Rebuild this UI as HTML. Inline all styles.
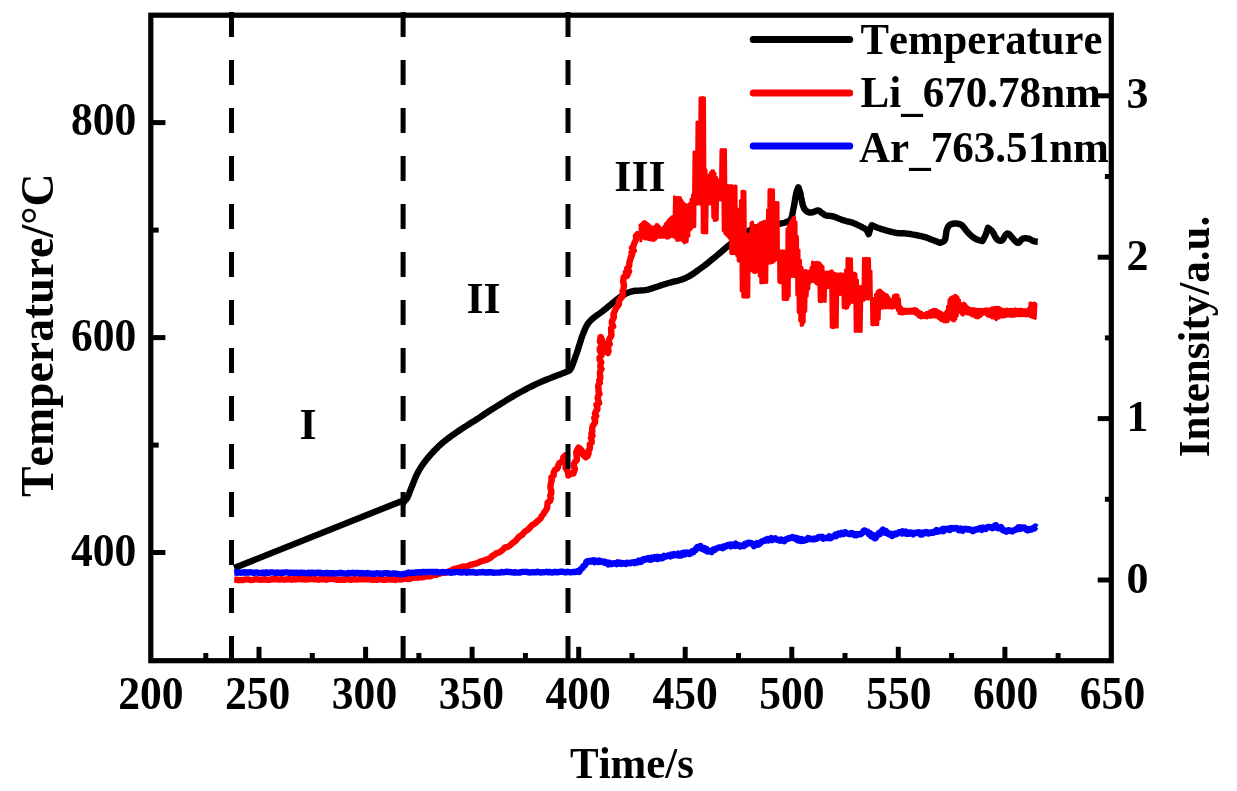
<!DOCTYPE html>
<html><head><meta charset="utf-8"><title>Temperature and intensity vs time</title>
<style>html,body{margin:0;padding:0;background:#fff}svg{display:block;filter:blur(0.5px)}</style></head>
<body>
<svg width="1237" height="791" viewBox="0 0 1237 791">
<rect width="1237" height="791" fill="#fff"/>
<g fill="none" stroke-linejoin="round" stroke-linecap="butt">
<path d="M234.2 568.0 L401.3 501.2 L403.2 503.0 L403.3 502.8 L403.5 502.6 L403.7 502.2 L404.0 501.9 L404.2 501.5 L404.5 501.2 L404.7 500.8 L405.0 500.5 L405.2 500.2 L405.5 500.1 L405.7 499.9 L405.9 499.8 L406.2 499.5 L406.5 499.2 L406.8 498.7 L407.2 498.0 L407.6 497.1 L408.1 496.0 L408.6 494.9 L409.1 493.5 L409.6 492.1 L410.2 490.6 L410.8 489.1 L411.5 487.5 L412.2 485.8 L412.9 484.0 L413.6 482.1 L414.4 480.1 L415.2 478.1 L416.1 476.1 L417.0 474.2 L417.9 472.4 L418.8 470.7 L419.8 469.1 L420.8 467.5 L421.8 465.9 L422.9 464.4 L424.0 462.8 L425.2 461.2 L426.5 459.6 L427.9 457.9 L429.4 456.1 L430.9 454.3 L432.6 452.5 L434.2 450.7 L435.9 449.0 L437.7 447.3 L439.4 445.6 L441.1 444.0 L442.9 442.5 L444.6 441.1 L446.4 439.7 L448.2 438.3 L450.1 436.9 L452.2 435.4 L454.4 433.8 L456.8 432.2 L459.3 430.5 L462.0 428.7 L464.7 426.9 L467.6 425.1 L470.4 423.3 L473.2 421.6 L475.9 419.8 L478.6 418.1 L481.3 416.3 L484.0 414.5 L486.6 412.8 L489.3 411.0 L492.0 409.3 L494.7 407.6 L497.4 405.9 L500.1 404.2 L502.8 402.6 L505.5 400.9 L508.1 399.3 L510.8 397.6 L513.5 396.1 L516.2 394.5 L518.9 393.0 L521.6 391.5 L524.3 390.1 L527.0 388.7 L529.6 387.3 L532.3 386.0 L535.0 384.7 L537.7 383.4 L540.4 382.2 L543.2 381.0 L546.1 379.8 L549.1 378.6 L552.0 377.4 L554.9 376.3 L557.5 375.3 L559.9 374.4 L561.9 373.6 L563.6 372.9 L564.9 372.4 L566.1 371.9 L567.0 371.6 L567.8 371.3 L568.4 371.0 L568.9 370.8 L569.4 370.6 L569.6 370.3 L569.8 370.0 L570.1 369.7 L570.4 369.3 L570.7 368.8 L571.1 368.1 L571.5 367.3 L572.0 366.2 L572.5 364.9 L573.1 363.4 L573.7 361.7 L574.4 359.9 L575.0 357.9 L575.7 355.9 L576.5 353.8 L577.2 351.7 L578.0 349.4 L578.7 347.0 L579.5 344.4 L580.4 341.8 L581.2 339.1 L582.0 336.6 L582.9 334.3 L583.7 332.2 L584.5 330.4 L585.1 328.8 L585.8 327.4 L586.5 326.0 L587.2 324.8 L588.0 323.5 L589.0 322.3 L590.2 320.9 L591.6 319.5 L593.2 318.1 L595.0 316.7 L596.8 315.4 L598.8 314.0 L600.8 312.5 L602.8 311.1 L604.7 309.6 L606.7 308.0 L608.7 306.3 L610.9 304.5 L613.0 302.7 L615.1 301.0 L617.2 299.3 L619.1 297.9 L620.9 296.6 L622.5 295.5 L624.0 294.6 L625.4 293.9 L626.6 293.2 L627.9 292.7 L629.3 292.2 L630.7 291.7 L632.2 291.3 L633.8 291.0 L635.5 290.8 L637.2 290.7 L639.0 290.6 L640.8 290.5 L642.7 290.4 L644.7 290.2 L646.8 289.8 L649.0 289.3 L651.3 288.6 L653.7 287.8 L656.2 287.0 L658.7 286.2 L661.2 285.3 L663.7 284.5 L666.2 283.7 L668.6 283.0 L671.1 282.4 L673.6 281.7 L676.1 281.1 L678.6 280.5 L681.0 279.8 L683.3 278.9 L685.6 278.0 L687.8 276.9 L689.9 275.8 L691.9 274.5 L693.9 273.2 L695.9 271.8 L697.8 270.4 L699.8 269.0 L701.8 267.5 L703.9 266.0 L706.0 264.4 L708.1 262.7 L710.2 261.0 L712.3 259.3 L714.3 257.7 L716.2 256.1 L718.0 254.6 L719.6 253.2 L721.1 252.0 L722.4 250.8 L723.7 249.7 L725.0 248.6 L726.3 247.4 L727.7 246.2 L729.3 244.9 L731.1 243.5 L732.9 242.0 L734.9 240.4 L736.9 238.8 L739.0 237.2 L741.0 235.6 L743.0 234.2 L745.0 233.0 L746.9 231.9 L748.7 230.9 L750.4 230.0 L752.2 229.2 L754.0 228.4 L755.9 227.7 L757.9 227.1 L760.0 226.5 L762.4 226.0 L765.0 225.5 L767.8 225.2 L770.7 224.8 L773.5 224.5 L776.1 224.3 L778.5 223.9 L780.6 223.6 L782.3 223.2 L783.8 222.9 L785.1 222.5 L786.2 222.1 L787.2 221.8 L788.1 221.4 L788.9 221.0 L789.6 220.5 L790.2 220.0 L790.7 219.4 L791.1 218.7 L791.4 218.1 L791.6 217.4 L791.7 216.8 L791.9 216.4 L792.0 216.0 L792.2 215.2 L792.4 214.3 L792.6 213.1 L792.9 211.8 L793.1 210.4 L793.4 208.9 L793.7 207.5 L794.0 206.0 L794.3 204.5 L794.6 202.8 L794.8 201.0 L795.1 199.2 L795.4 197.5 L795.7 195.8 L796.0 194.3 L796.3 193.0 L796.6 191.9 L796.9 190.9 L797.2 190.1 L797.5 189.3 L797.8 188.7 L798.0 188.2 L798.2 187.7 L798.4 187.3 L798.5 187.7 L798.7 188.2 L799.0 188.8 L799.2 189.5 L799.5 190.3 L799.8 191.1 L800.0 192.0 L800.3 193.0 L800.5 194.1 L800.8 195.3 L801.0 196.6 L801.3 197.9 L801.5 199.3 L801.8 200.6 L802.0 201.9 L802.3 203.0 L802.6 204.0 L802.8 205.0 L803.1 205.8 L803.4 206.7 L803.7 207.5 L804.0 208.2 L804.4 208.9 L804.8 209.5 L805.3 210.1 L805.8 210.6 L806.4 211.0 L806.9 211.4 L807.5 211.8 L808.1 212.1 L808.7 212.3 L809.3 212.5 L809.8 212.6 L810.4 212.6 L810.9 212.6 L811.4 212.5 L811.9 212.4 L812.4 212.3 L813.0 212.1 L813.5 212.0 L814.1 211.8 L814.6 211.6 L815.2 211.3 L815.8 211.1 L816.4 210.8 L817.0 210.6 L817.6 210.5 L818.1 210.5 L818.6 210.6 L819.1 210.8 L819.6 211.1 L820.1 211.5 L820.6 211.9 L821.0 212.3 L821.5 212.7 L822.0 213.0 L822.5 213.3 L822.9 213.6 L823.3 214.0 L823.7 214.3 L824.2 214.6 L824.7 214.9 L825.2 215.2 L825.9 215.4 L826.7 215.6 L827.5 215.7 L828.5 215.8 L829.4 215.9 L830.5 216.0 L831.5 216.2 L832.6 216.3 L833.7 216.6 L834.8 217.0 L836.0 217.4 L837.2 217.9 L838.4 218.4 L839.7 218.9 L840.9 219.4 L842.2 219.9 L843.4 220.3 L844.6 220.7 L845.8 221.0 L847.0 221.3 L848.2 221.5 L849.5 221.8 L850.7 222.1 L851.9 222.5 L853.1 222.9 L854.4 223.4 L855.7 224.0 L857.0 224.6 L858.4 225.3 L859.7 225.9 L860.9 226.5 L862.0 227.1 L862.9 227.6 L863.7 228.0 L864.3 228.3 L864.8 228.6 L865.2 228.8 L865.5 229.1 L865.8 229.3 L866.2 229.6 L866.5 230.0 L866.9 230.5 L867.2 231.0 L867.5 231.6 L867.8 232.2 L868.1 232.9 L868.3 233.4 L868.5 233.9 L868.7 234.2 L870.2 229.0 L871.8 225.2 L872.0 225.3 L872.3 225.4 L872.6 225.6 L872.9 225.8 L873.3 225.9 L873.7 226.1 L874.1 226.3 L874.5 226.5 L874.9 226.7 L875.3 226.8 L875.6 227.0 L876.0 227.1 L876.5 227.3 L877.0 227.5 L877.6 227.7 L878.4 228.0 L879.4 228.3 L880.5 228.7 L881.7 229.1 L883.0 229.5 L884.3 229.9 L885.7 230.3 L887.0 230.7 L888.2 231.0 L889.3 231.3 L890.5 231.6 L891.6 231.9 L892.7 232.2 L893.7 232.4 L894.8 232.6 L895.8 232.8 L896.9 233.0 L897.9 233.1 L899.0 233.2 L900.0 233.2 L901.0 233.3 L902.1 233.3 L903.1 233.3 L904.0 233.3 L905.0 233.4 L905.9 233.5 L906.7 233.6 L907.5 233.7 L908.3 233.8 L909.1 233.9 L910.0 234.0 L911.0 234.2 L912.1 234.4 L913.4 234.6 L914.9 234.9 L916.4 235.2 L918.0 235.5 L919.7 235.8 L921.3 236.2 L922.9 236.5 L924.3 236.9 L925.7 237.3 L927.0 237.8 L928.3 238.2 L929.5 238.7 L930.7 239.2 L931.9 239.7 L933.0 240.1 L934.0 240.5 L935.0 240.9 L935.9 241.2 L936.8 241.6 L937.6 241.9 L938.4 242.2 L939.0 242.5 L939.6 242.7 L940.0 242.9 L940.4 242.7 L941.0 242.5 L941.6 242.3 L942.3 242.0 L943.1 241.6 L943.8 241.2 L944.4 240.6 L944.9 239.9 L945.3 239.0 L945.5 237.8 L945.7 236.6 L945.9 235.2 L946.1 233.8 L946.2 232.5 L946.4 231.2 L946.7 230.2 L947.0 229.3 L947.3 228.5 L947.6 227.7 L948.0 227.0 L948.4 226.4 L948.8 225.8 L949.3 225.3 L949.8 224.9 L950.4 224.5 L951.1 224.2 L951.8 223.9 L952.6 223.8 L953.4 223.6 L954.2 223.5 L955.0 223.5 L955.8 223.5 L956.6 223.5 L957.3 223.6 L958.1 223.7 L958.8 223.9 L959.6 224.1 L960.4 224.4 L961.1 224.8 L961.9 225.3 L962.7 226.0 L963.4 226.8 L964.1 227.7 L964.9 228.7 L965.6 229.7 L966.4 230.7 L967.2 231.7 L968.0 232.6 L968.8 233.4 L969.7 234.3 L970.6 235.1 L971.5 236.0 L972.4 236.7 L973.4 237.5 L974.3 238.1 L975.2 238.7 L976.2 239.2 L977.2 239.6 L978.3 240.0 L979.3 240.3 L980.3 240.5 L981.2 240.8 L981.9 240.9 L982.5 241.1 L985.6 235.0 L988.0 227.8 L988.3 228.0 L988.7 228.3 L989.2 228.7 L989.8 229.1 L990.4 229.6 L991.0 230.1 L991.6 230.7 L992.2 231.4 L992.8 232.2 L993.4 233.2 L994.0 234.3 L994.6 235.5 L995.2 236.6 L995.9 237.7 L996.5 238.6 L997.1 239.3 L997.7 239.8 L998.3 240.2 L999.0 240.5 L999.6 240.7 L1000.2 240.8 L1000.8 240.8 L1001.4 240.7 L1001.9 240.5 L1002.4 240.1 L1002.9 239.5 L1003.4 238.7 L1003.9 237.9 L1004.3 237.0 L1004.7 236.2 L1005.2 235.5 L1005.6 235.0 L1006.0 234.6 L1006.3 234.2 L1006.7 233.9 L1007.0 233.7 L1007.3 233.5 L1007.7 233.5 L1008.1 233.6 L1008.6 233.8 L1009.2 234.2 L1009.8 234.9 L1010.5 235.7 L1011.3 236.6 L1012.0 237.5 L1012.8 238.4 L1013.5 239.2 L1014.1 239.9 L1014.7 240.5 L1015.2 241.0 L1015.8 241.6 L1016.3 242.0 L1016.8 242.4 L1017.3 242.7 L1017.8 242.9 L1018.3 242.9 L1018.8 242.7 L1019.3 242.3 L1019.8 241.7 L1020.3 241.0 L1020.9 240.3 L1021.4 239.6 L1022.0 239.1 L1022.6 238.7 L1023.3 238.5 L1024.0 238.3 L1024.8 238.3 L1025.6 238.3 L1026.4 238.3 L1027.1 238.4 L1027.9 238.6 L1028.6 238.7 L1029.3 238.9 L1029.9 239.2 L1030.5 239.5 L1031.2 239.9 L1031.8 240.2 L1032.3 240.6 L1032.9 240.9 L1033.5 241.1 L1034.1 241.3 L1034.7 241.4 L1035.3 241.5 L1035.9 241.6 L1036.5 241.6 L1037.0 241.6 L1037.4 241.7 L1037.7 241.7" stroke="#000" stroke-width="6.4"/>
<path d="M234.2 579.6 L236.3 579.7 L238.3 580.2 L240.4 579.9 L242.4 580.1 L244.5 579.7 L246.5 579.4 L248.6 579.4 L250.6 580.1 L252.7 579.8 L254.8 579.4 L256.8 579.2 L258.9 579.6 L260.9 579.7 L263.0 579.5 L265.0 579.3 L267.1 579.7 L269.2 579.9 L271.2 579.2 L273.3 579.0 L275.3 579.3 L277.4 579.3 L279.4 579.6 L281.5 579.1 L283.6 579.6 L285.6 579.5 L287.7 579.3 L289.7 579.0 L291.8 579.7 L293.8 579.1 L295.9 579.5 L297.9 579.0 L300.0 578.9 L302.0 579.4 L304.0 579.0 L306.1 579.6 L308.1 579.2 L310.1 579.0 L312.1 579.0 L314.1 579.2 L316.2 579.4 L318.2 579.7 L320.2 579.0 L322.2 579.2 L324.3 579.0 L326.3 579.7 L328.3 579.0 L330.3 578.9 L332.3 578.9 L334.4 579.2 L336.4 579.7 L338.4 579.7 L340.4 579.6 L342.4 579.8 L344.5 579.8 L346.5 579.2 L348.5 579.1 L350.5 579.8 L352.6 579.6 L354.6 579.0 L356.6 579.6 L358.6 579.3 L360.6 579.3 L362.7 579.3 L364.7 579.2 L366.7 579.0 L368.7 579.3 L370.7 579.4 L372.8 579.9 L374.8 579.2 L376.8 579.9 L378.8 579.3 L380.9 579.4 L382.9 579.8 L384.9 579.8 L386.9 579.5 L388.9 579.2 L391.0 579.6 L393.0 579.5 L395.0 580.0 L397.1 579.2 L399.3 579.2 L401.4 579.5 L403.6 578.6 L405.7 578.8 L407.9 579.0 L410.0 578.8 L412.0 577.9 L414.0 577.7 L416.0 577.4 L418.0 577.9 L420.0 577.1 L422.0 577.3 L424.0 577.1 L426.0 576.4 L428.0 576.1 L430.0 576.4 L432.1 575.6 L434.3 574.8 L436.4 574.7 L438.6 573.8 L440.7 573.3 L442.9 572.6 L445.0 572.7 L447.0 572.2 L449.0 571.3 L451.0 570.9 L453.0 569.4 L455.0 568.9 L457.0 568.4 L459.0 567.8 L461.7 567.0 L464.4 566.5 L467.2 566.3 L469.8 565.0 L472.5 564.3 L475.2 563.7 L477.9 562.9 L480.3 561.5 L483.0 560.8 L485.6 559.9 L488.2 559.1 L490.6 557.7 L492.4 555.8 L494.6 554.7 L496.6 553.1 L499.2 552.5 L501.2 551.0 L503.2 549.4 L505.0 547.4 L507.8 547.0 L509.9 545.5 L511.8 543.7 L513.9 542.2 L515.9 540.6 L517.7 538.3 L519.6 536.3 L522.2 534.9 L523.9 532.5 L526.1 530.8 L528.5 529.2 L530.3 527.1 L532.1 525.1 L534.5 523.8 L536.5 522.0 L538.6 520.3 L540.5 518.5 L541.6 516.2 L543.3 514.2 L544.6 512.0 L546.1 509.9 L547.2 507.7 L547.4 505.1 L547.6 502.6 L550.1 500.8 L550.8 498.4 L550.2 495.7 L551.3 493.3 L551.2 490.7 L550.5 488.1 L550.5 485.6 L550.9 483.1 L551.7 480.6 L551.3 477.6 L553.7 475.4 L553.7 472.5 L555.0 470.0 L557.5 468.3 L558.3 465.4 L559.3 463.2 L561.8 462.0 L562.8 459.8 L563.3 457.3 L565.3 455.5 L566.9 457.8 L566.6 460.2 L565.1 462.9 L566.5 465.2 L565.5 467.7 L567.0 470.0 L568.0 472.7 L568.4 475.5 L570.5 473.5 L573.4 473.5 L574.1 471.3 L574.9 469.1 L574.0 466.6 L573.9 464.2 L574.9 462.1 L576.9 460.1 L576.8 457.7 L576.5 455.3 L576.2 452.5 L577.2 449.9 L578.5 447.5 L580.7 449.2 L582.2 451.5 L582.5 454.3 L585.6 457.3 L587.7 455.8 L588.6 453.3 L588.3 450.9 L589.8 448.9 L590.0 446.7 L589.8 444.3 L591.7 442.4 L591.6 440.1 L590.9 437.8 L592.5 435.7 L591.4 433.4 L592.4 431.3 L592.1 429.0 L592.5 426.8 L593.4 424.7 L595.0 422.7 L595.1 420.5 L594.2 418.0 L596.2 416.1 L594.9 413.6 L595.8 411.4 L597.4 409.5 L597.3 407.2 L596.4 404.7 L599.1 403.0 L598.3 400.5 L597.7 398.2 L598.0 396.0 L599.5 393.9 L598.5 391.6 L598.6 389.3 L598.2 387.1 L598.4 384.8 L599.9 382.7 L599.2 380.4 L600.3 378.2 L600.2 376.0 L599.9 373.7 L600.1 371.4 L601.5 369.1 L600.3 366.8 L600.5 364.5 L601.3 362.2 L599.6 359.9 L599.5 357.6 L601.5 355.4 L601.3 353.1 L599.9 350.8 L599.7 348.5 L601.2 346.2 L601.8 343.9 L599.9 341.6 L601.8 339.3 L600.7 337.0 L600.1 339.7 L601.2 342.0 L602.1 344.5 L603.3 346.8 L603.8 349.3 L603.0 352.0 L604.7 349.4 L603.5 346.2 L604.7 343.5 L605.0 346.0 L606.9 348.0 L606.4 350.9 L608.0 353.0 L608.6 350.8 L608.1 348.4 L608.1 346.2 L609.8 344.1 L608.5 341.6 L609.2 339.5 L610.4 337.3 L611.5 335.2 L611.2 332.9 L611.2 330.6 L611.1 328.2 L613.2 326.3 L611.9 323.7 L611.9 321.3 L613.0 319.2 L613.9 317.0 L613.4 314.5 L614.2 312.3 L615.2 310.2 L616.0 308.0 L617.7 306.1 L619.0 304.0 L618.8 301.3 L620.1 299.0 L622.1 297.0 L623.0 294.6 L622.5 291.8 L623.3 289.4 L623.8 287.0 L624.0 284.6 L623.2 281.9 L623.4 279.5 L623.7 277.0 L626.4 275.0 L625.8 272.4 L627.0 276.0 L628.0 273.6 L629.1 271.2 L627.2 268.3 L629.2 266.1 L629.3 263.5 L629.8 261.0 L631.0 257.0 L632.1 254.9 L631.5 252.5 L633.8 250.7 L631.9 248.0 L633.5 246.0 L634.2 243.5 L635.3 241.1 L636.3 238.7 L635.9 236.0 L637.8 234.0 L640.0 235.1" stroke="#fe0000" stroke-width="6.4"/>
<path d="M640.0 224.9 L640.8 241.1 L641.5 223.9 L642.2 237.8 L643.0 222.3 L643.8 238.5 L644.5 221.5 L645.2 239.1 L646.0 222.3 L646.8 239.0 L647.5 223.5 L648.2 239.5 L649.0 224.4 L649.8 240.0 L650.5 226.2 L651.2 240.0 L652.0 227.3 L652.8 240.4 L653.5 227.3 L654.2 240.4 L655.0 226.2 L655.8 239.3 L656.5 224.6 L657.2 238.0 L658.0 224.8 L658.8 236.7 L659.5 226.6 L660.2 237.4 L661.0 228.1 L661.8 237.2 L662.5 228.4 L663.2 237.3 L664.0 226.2 L664.8 237.1 L665.5 223.8 L666.2 238.0 L667.0 221.9 L667.8 238.3 L668.5 220.0 L669.2 237.8 L670.0 218.6 L670.8 236.4 L671.5 217.1 L672.2 236.5 L673.0 216.5 L673.8 236.9 L674.5 196.8 L675.2 238.1 L676.0 197.6 L676.8 240.5 L677.5 197.4 L678.2 240.4 L679.0 197.6 L679.8 239.9 L680.5 197.7 L681.2 240.1 L682.0 200.6 L682.8 241.2 L683.5 202.7 L684.2 242.9 L685.0 204.3 L685.8 242.3 L686.5 204.8 L687.2 241.8 L688.0 205.1 L688.8 236.3 L689.5 203.4 L690.2 230.1 L691.0 199.3 L691.8 228.5 L692.5 195.1 L693.2 226.7 L694.0 152.1 L694.8 226.7 L695.5 152.0 L696.2 204.4 L697.0 122.0 L697.8 204.1 L698.5 122.5 L699.2 203.9 L700.0 98.1 L700.8 204.4 L701.5 97.8 L702.2 232.5 L703.0 97.5 L703.8 232.7 L704.5 98.0 L705.2 233.0 L706.0 169.8 L706.8 232.9 L707.5 179.5 L708.2 204.4 L709.0 174.9 L709.8 203.6 L710.5 172.5 L711.2 204.3 L712.0 170.8 L712.8 217.4 L713.5 170.7 L714.2 220.4 L715.0 173.3 L715.8 220.5 L716.5 177.3 L717.2 219.7 L718.0 180.3 L718.8 199.8 L719.5 179.7 L720.2 200.0 L721.0 149.8 L721.8 200.2 L722.5 149.6 L723.2 230.8 L724.0 149.7 L724.8 233.4 L725.5 149.6 L726.2 234.9 L727.0 186.3 L727.8 236.4 L728.5 185.6 L729.2 238.2 L730.0 186.0 L730.8 253.5 L731.5 185.6 L732.2 253.7 L733.0 186.5 L733.8 253.5 L734.5 185.9 L735.2 253.7 L736.0 186.1 L736.8 256.0 L737.5 209.0 L738.2 260.9 L739.0 209.0 L739.8 261.1 L740.5 200.6 L741.2 291.0 L742.0 191.3 L742.8 296.9 L743.5 191.3 L744.2 297.3 L745.0 191.4 L745.8 297.1 L746.5 234.4 L747.2 297.2 L748.0 234.8 L748.8 297.1 L749.5 234.1 L750.2 270.1 L751.0 223.0 L751.8 271.0 L752.5 221.9 L753.2 272.1 L754.0 225.0 L754.8 272.8 L755.5 227.7 L756.2 272.2 L757.0 226.7 L757.8 270.2 L758.5 224.4 L759.2 276.0 L760.0 222.9 L760.8 282.9 L761.5 222.5 L762.2 282.7 L763.0 222.0 L763.8 282.8 L764.5 221.3 L765.2 282.6 L766.0 221.1 L766.8 282.6 L767.5 210.0 L768.2 263.6 L769.0 189.7 L769.8 263.1 L770.5 189.6 L771.2 262.9 L772.0 189.8 L772.8 262.5 L773.5 189.8 L774.2 261.4 L775.0 202.3 L775.8 260.0 L776.5 202.4 L777.2 258.4 L778.0 202.4 L778.8 282.1 L779.5 251.0 L780.2 282.9 L781.0 250.9 L781.8 282.6 L782.5 250.8 L783.2 299.5 L784.0 250.9 L784.8 299.6 L785.5 251.2 L786.2 299.8 L787.0 228.8 L787.8 299.5 L788.5 225.6 L789.2 296.2 L790.0 223.0 L790.8 276.8 L791.5 220.0 L792.2 276.4 L793.0 218.0 L793.8 276.2 L794.5 217.1 L795.2 276.9 L796.0 221.8 L796.8 295.0 L797.5 236.5 L798.2 312.4 L799.0 250.0 L799.8 321.1 L800.5 260.2 L801.2 325.6 L802.0 267.2 L802.8 324.9 L803.5 270.5 L804.2 322.2 L805.0 270.6 L805.8 311.4 L806.5 270.7 L807.2 296.3 L808.0 271.2 L808.8 289.2 L809.5 270.9 L810.2 282.6 L811.0 267.6 L811.8 281.3 L812.5 262.1 L813.2 281.4 L814.0 262.7 L814.8 282.2 L815.5 262.4 L816.2 283.8 L817.0 262.2 L817.8 284.8 L818.5 262.6 L819.2 301.5 L820.0 263.1 L820.8 301.8 L821.5 264.9 L822.2 301.5 L823.0 266.5 L823.8 301.1 L824.5 271.8 L825.2 301.6 L826.0 272.5 L826.8 288.1 L827.5 272.1 L828.2 287.4 L829.0 272.2 L829.8 288.0 L830.5 271.3 L831.2 327.2 L832.0 270.7 L832.8 327.7 L833.5 272.5 L834.2 327.4 L835.0 273.6 L835.8 326.8 L836.5 274.1 L837.2 327.3 L838.0 274.0 L838.8 294.2 L839.5 274.1 L840.2 294.5 L841.0 273.7 L841.8 294.4 L842.5 274.1 L843.2 307.6 L844.0 274.3 L844.8 307.9 L845.5 270.1 L846.2 308.4 L847.0 258.5 L847.8 307.7 L848.5 258.6 L849.2 304.8 L850.0 258.8 L850.8 302.4 L851.5 258.7 L852.2 302.3 L853.0 273.2 L853.8 302.7 L854.5 273.0 L855.2 331.4 L856.0 273.9 L856.8 331.2 L857.5 280.1 L858.2 331.4 L859.0 286.4 L859.8 331.5 L860.5 286.5 L861.2 331.6 L862.0 286.2 L862.8 300.4 L863.5 258.4 L864.2 300.2 L865.0 258.4 L865.8 298.7 L866.5 258.2 L867.2 298.9 L868.0 258.4 L868.8 299.1 L869.5 258.4 L870.2 298.6 L871.0 270.9 L871.8 324.8 L872.5 299.9 L873.2 324.9 L874.0 298.2 L874.8 324.5 L875.5 294.6 L876.2 324.7 L877.0 291.8 L877.8 324.8 L878.5 290.5 L879.2 319.3 L880.0 290.0 L880.8 308.5 L881.5 290.9 L882.2 308.3 L883.0 292.6 L883.8 307.7 L884.5 293.5 L885.2 308.0 L886.0 294.4 L886.8 307.7 L887.5 295.0 L888.2 307.9 L889.0 297.5 L889.8 307.8 L890.5 299.3 L891.2 308.2 L892.0 299.5 L892.8 308.1 L893.5 295.8 L894.2 307.4 L895.0 294.9 L895.8 307.4 L896.5 294.8 L897.2 310.3 L898.0 295.0 L898.8 313.4 L899.5 298.7 L900.2 313.8 L901.0 306.5 L901.8 313.9 L902.5 308.4 L903.2 314.1 L904.0 309.3 L904.8 313.6 L905.5 309.0 L906.2 313.6 L907.0 309.4 L907.8 313.3 L908.5 309.1 L909.2 313.2 L910.0 309.5 L910.8 313.3 L911.5 309.1 L912.2 313.2 L913.0 308.9 L913.8 313.2 L914.5 308.4 L915.2 314.2 L916.0 308.7 L916.8 315.1 L917.5 309.5 L918.2 316.7 L919.0 311.0 L919.8 317.5 L920.5 311.7 L921.2 318.0 L922.0 312.6 L922.8 317.6 L923.5 314.0 L924.2 317.6 L925.0 313.2 L925.8 317.8 L926.5 312.6 L927.2 318.0 L928.0 312.2 L928.8 317.0 L929.5 311.1 L930.2 317.4 L931.0 310.6 L931.8 317.2 L932.5 309.7 L933.2 316.6 L934.0 309.2 L934.8 317.2 L935.5 309.5 L936.2 316.7 L937.0 309.7 L937.8 318.0 L938.5 310.9 L939.2 319.1 L940.0 311.6 L940.8 320.4 L941.5 312.6 L942.2 320.6 L943.0 314.1 L943.8 321.9 L944.5 312.9 L945.2 321.7 L946.0 311.2 L946.8 321.9 L947.5 306.2 L948.2 321.5 L949.0 299.8 L949.8 318.7 L950.5 297.7 L951.2 319.4 L952.0 297.1 L952.8 320.7 L953.5 296.6 L954.2 321.1 L955.0 295.3 L955.8 319.3 L956.5 295.7 L957.2 316.1 L958.0 297.3 L958.8 311.9 L959.5 299.9 L960.2 312.6 L961.0 303.7 L961.8 314.7 L962.5 303.8 L963.2 315.2 L964.0 303.1 L964.8 313.7 L965.5 304.2 L966.2 313.4 L967.0 306.1 L967.8 314.2 L968.5 307.4 L969.2 314.2 L970.0 308.2 L970.8 315.2 L971.5 308.7 L972.2 316.1 L973.0 308.4 L973.8 316.1 L974.5 309.1 L975.2 317.4 L976.0 309.1 L976.8 317.8 L977.5 309.5 L978.2 318.0 L979.0 309.3 L979.8 316.9 L980.5 309.5 L981.2 316.1 L982.0 309.2 L982.8 314.5 L983.5 309.6 L984.2 313.9 L985.0 309.0 L985.8 314.2 L986.5 308.7 L987.2 315.9 L988.0 309.0 L988.8 316.4 L989.5 309.2 L990.2 316.7 L991.0 308.1 L991.8 317.9 L992.5 308.1 L993.2 317.9 L994.0 307.4 L994.8 318.4 L995.5 307.5 L996.2 319.8 L997.0 307.2 L997.8 318.5 L998.5 307.2 L999.2 318.0 L1000.0 308.0 L1000.8 316.8 L1001.5 309.0 L1002.2 317.1 L1003.0 309.3 L1003.8 316.9 L1004.5 309.8 L1005.2 316.8 L1006.0 309.2 L1006.8 316.2 L1007.5 309.1 L1008.2 316.1 L1009.0 309.5 L1009.8 316.2 L1010.5 309.2 L1011.2 316.4 L1012.0 309.2 L1012.8 316.3 L1013.5 309.5 L1014.2 316.2 L1015.0 308.8 L1015.8 315.9 L1016.5 309.3 L1017.2 315.4 L1018.0 309.3 L1018.8 315.7 L1019.5 309.4 L1020.2 315.8 L1021.0 309.0 L1021.8 315.7 L1022.5 309.4 L1023.2 315.7 L1024.0 310.1 L1024.8 315.4 L1025.5 309.6 L1026.2 316.1 L1027.0 309.9 L1027.8 315.6 L1028.5 308.3 L1029.2 316.2 L1030.0 303.1 L1030.8 316.8 L1031.5 303.0 L1032.2 317.5 L1033.0 303.4 L1033.8 317.8 L1034.5 302.9 L1035.2 318.4 L1036.0 304.1" stroke="#fe0000" stroke-width="3.0" stroke-linejoin="round" stroke-linecap="round"/>
<path d="M234.2 572.5 L235.7 572.4 L237.3 572.8 L238.8 572.3 L240.3 572.7 L241.9 572.6 L243.4 572.3 L244.9 572.7 L246.4 572.3 L248.0 572.7 L249.5 572.3 L251.0 572.4 L252.6 572.7 L254.1 573.0 L255.6 572.4 L257.2 572.5 L258.7 572.9 L260.2 573.1 L261.7 572.8 L263.3 572.7 L264.8 573.2 L266.3 572.3 L267.9 573.1 L269.4 572.6 L270.9 572.4 L272.5 572.4 L274.0 572.6 L275.5 573.0 L277.0 572.5 L278.6 572.8 L280.1 572.9 L281.6 572.7 L283.2 572.8 L284.7 572.4 L286.2 572.4 L287.8 572.5 L289.3 572.9 L290.8 572.7 L292.3 572.6 L293.9 572.9 L295.4 572.8 L296.9 572.6 L298.5 573.1 L300.0 573.0 L301.5 572.6 L303.0 572.9 L304.5 572.9 L306.0 573.2 L307.5 573.1 L309.0 572.7 L310.5 573.3 L312.0 572.6 L313.5 572.8 L315.0 573.2 L316.5 572.6 L318.0 573.0 L319.5 572.6 L321.0 573.1 L322.5 573.2 L324.0 573.1 L325.5 573.4 L327.0 572.9 L328.5 573.2 L330.0 573.2 L331.5 573.2 L333.0 573.1 L334.5 573.4 L336.0 573.5 L337.5 573.1 L339.0 573.3 L340.5 572.8 L342.0 573.4 L343.5 573.3 L345.0 573.6 L346.5 573.5 L348.0 573.0 L349.5 573.1 L351.0 573.4 L352.5 572.8 L354.0 573.2 L355.5 573.0 L357.0 573.0 L358.5 572.9 L360.0 573.6 L361.5 573.0 L363.0 573.1 L364.5 573.3 L366.0 573.7 L367.5 573.0 L369.0 573.4 L370.5 573.5 L372.0 573.8 L373.5 573.7 L375.0 573.8 L376.5 573.3 L378.0 573.4 L379.5 573.4 L381.0 573.9 L382.5 573.9 L384.0 573.2 L385.5 573.3 L387.0 573.3 L388.5 573.3 L390.0 573.6 L391.5 573.8 L393.0 573.5 L394.5 573.4 L396.0 573.8 L397.5 573.9 L399.0 574.1 L400.5 574.5 L402.0 574.4 L403.6 573.9 L405.2 573.7 L406.8 573.4 L408.4 572.5 L410.0 573.0 L411.5 572.8 L413.1 572.9 L414.6 572.8 L416.2 572.4 L417.7 572.4 L419.2 572.1 L420.8 572.6 L422.3 572.0 L423.8 572.0 L425.4 572.1 L426.9 572.0 L428.5 572.2 L430.0 571.9 L431.5 571.9 L433.0 572.0 L434.6 571.9 L436.1 572.2 L437.6 571.9 L439.1 572.6 L440.7 572.4 L442.2 572.0 L443.7 572.1 L445.2 572.2 L446.7 572.2 L448.3 572.0 L449.8 572.6 L451.3 572.7 L452.8 572.3 L454.3 572.3 L455.9 571.9 L457.4 571.9 L458.9 572.2 L460.4 572.1 L462.0 572.6 L463.5 572.0 L465.0 571.9 L466.5 572.7 L468.0 572.3 L469.6 572.0 L471.1 572.3 L472.6 571.9 L474.1 572.3 L475.7 572.7 L477.2 572.6 L478.7 572.5 L480.2 572.1 L481.7 572.2 L483.3 572.0 L484.8 572.5 L486.3 572.3 L487.8 572.6 L489.3 572.1 L490.9 572.1 L492.4 572.6 L493.9 572.7 L495.4 572.6 L497.0 572.6 L498.5 572.6 L500.0 572.5 L501.5 572.0 L503.0 572.3 L504.5 572.1 L506.0 571.8 L507.5 571.8 L509.0 572.1 L510.5 572.0 L512.0 572.4 L513.5 572.6 L515.0 572.2 L516.5 572.6 L518.0 572.6 L519.5 572.6 L521.0 572.1 L522.5 571.9 L524.0 571.9 L525.5 571.9 L527.0 571.9 L528.5 572.3 L530.0 572.5 L531.5 572.4 L533.0 572.1 L534.5 572.3 L536.0 572.4 L537.5 571.7 L539.0 572.2 L540.5 572.5 L542.0 572.3 L543.5 572.3 L545.0 572.1 L546.5 571.8 L548.0 572.3 L549.5 571.9 L551.0 572.3 L552.5 572.5 L554.0 571.9 L555.5 571.9 L557.0 572.4 L558.5 572.2 L560.0 571.7 L561.5 571.7 L563.0 571.7 L564.5 572.3 L566.1 572.2 L567.6 571.6 L569.1 572.2 L570.6 572.4 L572.1 572.1 L573.7 571.8 L575.2 572.0 L576.7 571.6 L578.2 570.7 L579.2 571.9 L580.2 570.0 L581.2 568.6 L582.2 568.5 L583.3 566.1 L584.3 566.0 L585.3 564.8 L586.3 562.1 L587.3 561.1 L588.3 561.1 L589.3 560.9 L590.3 561.7 L591.3 560.8 L592.3 561.1 L593.3 560.3 L594.4 562.2 L595.4 560.7 L596.4 560.9 L597.4 561.1 L598.4 561.9 L599.4 560.6 L600.4 561.7 L601.4 561.2 L602.4 561.8 L603.5 562.3 L604.5 561.6 L605.5 563.1 L606.5 563.0 L607.5 562.5 L608.5 564.5 L609.5 562.9 L610.5 563.6 L611.5 564.2 L612.5 563.7 L613.6 563.1 L614.6 563.5 L615.6 563.6 L616.6 564.1 L617.6 562.4 L618.6 563.5 L619.6 562.6 L620.6 562.7 L621.6 563.9 L622.6 563.2 L623.6 563.2 L624.7 563.7 L625.7 564.0 L626.7 562.8 L627.7 563.2 L628.7 562.9 L629.7 562.9 L630.7 563.3 L631.7 562.5 L632.7 562.5 L633.7 562.1 L634.8 563.1 L635.8 562.3 L636.8 562.5 L637.8 562.5 L638.8 560.6 L639.8 561.1 L640.9 561.9 L641.9 561.4 L642.9 559.4 L643.9 559.2 L644.9 559.8 L645.9 558.7 L646.9 558.9 L648.0 558.2 L649.0 559.5 L650.0 559.6 L651.0 559.7 L652.0 557.7 L653.0 558.9 L654.0 558.7 L655.0 557.2 L656.0 558.9 L657.1 559.0 L658.1 556.9 L659.1 558.6 L660.1 557.1 L661.1 557.2 L662.1 558.3 L663.1 557.7 L664.1 555.9 L665.1 556.4 L666.2 556.5 L667.2 555.9 L668.2 555.4 L669.2 555.5 L670.2 556.4 L671.2 554.5 L672.2 555.7 L673.2 555.3 L674.2 554.0 L675.2 554.7 L676.2 555.3 L677.3 554.8 L678.3 553.6 L679.3 555.7 L680.3 555.1 L681.3 555.4 L682.3 553.1 L683.3 553.3 L684.3 552.6 L685.3 554.3 L686.4 552.9 L687.4 552.4 L688.4 553.0 L689.4 554.0 L690.4 553.6 L691.4 552.1 L692.4 551.1 L693.4 552.2 L694.4 550.6 L695.5 550.2 L696.5 547.9 L697.5 547.0 L698.5 547.8 L699.5 546.4 L700.5 546.0 L701.5 548.7 L702.5 548.4 L703.5 549.4 L704.5 548.1 L705.6 550.5 L706.6 549.0 L707.6 551.5 L708.6 551.0 L709.6 551.2 L710.6 551.4 L711.6 552.0 L712.6 550.0 L713.6 549.3 L714.6 550.0 L715.7 548.9 L716.7 548.3 L717.7 548.1 L718.7 547.5 L719.7 547.5 L720.7 547.5 L721.7 547.1 L722.7 548.0 L723.7 546.6 L724.7 547.0 L725.7 545.9 L726.7 546.1 L727.7 545.1 L728.8 545.5 L729.8 544.7 L730.8 546.3 L731.8 545.6 L732.8 544.5 L733.8 545.0 L734.8 545.9 L735.8 543.6 L736.8 545.6 L737.9 544.9 L738.9 545.3 L739.9 546.4 L741.0 545.5 L742.0 546.0 L743.0 545.9 L744.0 546.0 L745.0 543.9 L746.0 544.5 L747.0 543.6 L748.0 542.8 L749.0 542.8 L750.0 543.2 L751.0 542.9 L752.0 543.6 L753.0 544.0 L754.0 546.2 L755.0 544.5 L756.0 543.9 L757.0 543.2 L758.0 544.7 L759.1 544.3 L760.1 543.4 L761.1 541.9 L762.1 541.4 L763.1 541.1 L764.1 541.1 L765.1 539.9 L766.2 540.1 L767.2 539.2 L768.2 540.5 L769.2 540.1 L770.2 538.6 L771.2 538.1 L772.2 540.1 L773.2 538.7 L774.2 539.0 L775.2 538.3 L776.2 539.5 L777.2 539.9 L778.3 540.2 L779.3 539.7 L780.3 540.7 L781.3 539.6 L782.3 540.5 L783.3 540.3 L784.3 541.2 L785.3 539.7 L786.3 539.1 L787.3 539.1 L788.3 538.3 L789.4 538.6 L790.4 537.8 L791.4 537.8 L792.4 536.9 L793.4 537.5 L794.4 538.4 L795.4 537.7 L796.5 538.1 L797.5 540.2 L798.5 538.6 L799.5 540.6 L800.5 540.9 L801.6 539.1 L802.6 540.9 L803.7 540.8 L804.7 539.9 L805.8 540.0 L806.8 539.9 L807.9 538.0 L808.9 538.8 L810.0 538.5 L811.0 539.3 L812.0 539.2 L813.0 539.2 L814.1 538.5 L815.1 539.2 L816.1 538.7 L817.1 538.6 L818.1 537.4 L819.1 536.9 L820.1 537.1 L821.2 537.6 L822.2 536.9 L823.2 538.7 L824.2 537.9 L825.2 538.1 L826.2 538.0 L827.3 538.1 L828.3 537.6 L829.3 536.3 L830.3 538.2 L831.3 537.8 L832.3 536.8 L833.3 536.5 L834.4 536.4 L835.4 534.6 L836.4 535.9 L837.4 534.3 L838.4 533.5 L839.4 533.6 L840.4 534.4 L841.5 532.8 L842.5 533.7 L843.5 534.0 L844.5 532.4 L845.5 532.3 L846.5 532.8 L847.5 533.5 L848.5 534.0 L849.5 533.8 L850.5 534.1 L851.5 532.9 L852.6 533.3 L853.6 533.8 L854.6 535.2 L855.6 534.3 L856.6 535.2 L857.6 534.1 L858.6 534.4 L859.6 534.1 L860.6 534.2 L861.7 533.4 L862.7 532.5 L863.7 530.7 L864.7 530.4 L865.7 531.0 L866.7 531.7 L867.7 531.6 L868.7 534.2 L869.8 533.2 L870.8 535.9 L871.8 536.5 L872.8 534.9 L873.8 536.7 L874.8 538.3 L875.8 537.8 L876.8 535.6 L877.8 534.3 L878.8 533.2 L879.9 534.2 L880.9 531.5 L881.9 531.5 L882.9 529.5 L883.9 531.0 L884.9 532.6 L885.9 531.0 L886.9 533.2 L888.0 533.0 L889.0 534.4 L890.0 534.5 L891.0 533.8 L892.0 536.0 L893.0 535.5 L894.0 533.9 L895.0 533.5 L896.0 534.3 L897.0 533.8 L898.0 533.1 L899.0 532.3 L900.0 532.4 L901.0 531.9 L902.0 533.3 L903.0 531.3 L904.0 533.2 L905.1 533.5 L906.1 531.7 L907.1 533.8 L908.1 533.3 L909.1 533.8 L910.1 532.4 L911.1 532.6 L912.2 532.7 L913.2 534.3 L914.2 533.3 L915.2 532.8 L916.2 533.0 L917.2 532.7 L918.3 532.2 L919.3 532.4 L920.3 534.3 L921.3 533.0 L922.3 534.4 L923.3 532.6 L924.3 532.4 L925.3 532.9 L926.3 531.9 L927.4 532.3 L928.4 533.6 L929.4 533.2 L930.4 532.9 L931.4 532.3 L932.4 532.8 L933.4 532.7 L934.4 531.6 L935.4 531.9 L936.5 530.0 L937.5 531.6 L938.5 530.7 L939.5 531.3 L940.5 530.9 L941.5 529.9 L942.5 529.1 L943.5 531.1 L944.5 528.9 L945.5 529.5 L946.5 529.0 L947.6 528.7 L948.6 529.6 L949.6 530.0 L950.6 528.0 L951.6 528.8 L952.6 528.0 L953.6 528.7 L954.6 528.4 L955.6 528.0 L956.6 528.1 L957.7 528.3 L958.7 530.1 L959.7 529.2 L960.7 528.6 L961.7 530.4 L962.7 530.7 L963.7 529.5 L964.7 528.8 L965.7 529.0 L966.8 528.9 L967.8 529.6 L968.8 529.1 L969.8 529.5 L970.8 529.7 L971.8 530.6 L972.8 531.2 L973.8 530.7 L974.8 529.7 L975.8 529.5 L976.8 529.6 L977.8 529.1 L978.9 528.8 L979.9 528.0 L980.9 528.3 L981.9 529.9 L982.9 527.6 L983.9 528.4 L984.9 528.6 L985.9 529.0 L986.9 527.2 L987.9 527.2 L988.9 526.9 L990.0 527.1 L991.0 527.1 L992.0 528.2 L993.0 527.8 L994.0 527.7 L995.0 525.4 L996.0 525.2 L997.0 527.3 L998.0 528.2 L999.0 527.6 L1000.1 528.3 L1001.1 527.2 L1002.1 528.6 L1003.1 530.4 L1004.1 530.5 L1005.2 531.0 L1006.2 531.7 L1007.2 530.4 L1008.2 530.4 L1009.2 530.3 L1010.2 530.9 L1011.2 531.0 L1012.2 531.4 L1013.2 530.5 L1014.2 530.1 L1015.2 530.1 L1016.3 529.0 L1017.3 529.0 L1018.3 527.4 L1019.3 529.0 L1020.3 527.3 L1021.3 528.7 L1022.3 527.8 L1023.3 527.4 L1024.3 527.5 L1025.3 528.3 L1026.4 529.7 L1027.4 530.4 L1028.4 529.4 L1029.4 529.0 L1030.4 529.7 L1031.4 529.5 L1032.5 528.6 L1033.5 527.8 L1034.5 528.4 L1035.5 526.6 L1036.5 527.4" stroke="#0000fe" stroke-width="6.4"/>
</g>
<g stroke-width="7" stroke-linecap="round">
<line x1="753.2" y1="39.6" x2="849.7" y2="39.6" stroke="#000"/>
<line x1="753.2" y1="92.9" x2="849.7" y2="92.9" stroke="#fe0000"/>
<line x1="753.2" y1="146.1" x2="849.7" y2="146.1" stroke="#0000fe"/>
</g>
<g stroke="#000" stroke-width="5" stroke-dasharray="25 23">
<line x1="231.5" y1="12" x2="231.5" y2="660"/>
<line x1="403.1" y1="12" x2="403.1" y2="660"/>
<line x1="568" y1="12" x2="568" y2="660"/>
</g>
<rect x="150.8" y="15.2" width="960.5" height="645.5" fill="none" stroke="#000" stroke-width="5.2"/>
<line x1="205.8" y1="660.7" x2="205.8" y2="653.0" stroke="#000" stroke-width="5.0" />
<line x1="259.0" y1="660.7" x2="259.0" y2="646.8" stroke="#000" stroke-width="5.0" />
<line x1="312.3" y1="660.7" x2="312.3" y2="653.0" stroke="#000" stroke-width="5.0" />
<line x1="365.6" y1="660.7" x2="365.6" y2="646.8" stroke="#000" stroke-width="5.0" />
<line x1="418.9" y1="660.7" x2="418.9" y2="653.0" stroke="#000" stroke-width="5.0" />
<line x1="472.1" y1="660.7" x2="472.1" y2="646.8" stroke="#000" stroke-width="5.0" />
<line x1="525.4" y1="660.7" x2="525.4" y2="653.0" stroke="#000" stroke-width="5.0" />
<line x1="578.7" y1="660.7" x2="578.7" y2="646.8" stroke="#000" stroke-width="5.0" />
<line x1="632.0" y1="660.7" x2="632.0" y2="653.0" stroke="#000" stroke-width="5.0" />
<line x1="685.2" y1="660.7" x2="685.2" y2="646.8" stroke="#000" stroke-width="5.0" />
<line x1="738.5" y1="660.7" x2="738.5" y2="653.0" stroke="#000" stroke-width="5.0" />
<line x1="791.8" y1="660.7" x2="791.8" y2="646.8" stroke="#000" stroke-width="5.0" />
<line x1="845.0" y1="660.7" x2="845.0" y2="653.0" stroke="#000" stroke-width="5.0" />
<line x1="898.3" y1="660.7" x2="898.3" y2="646.8" stroke="#000" stroke-width="5.0" />
<line x1="951.6" y1="660.7" x2="951.6" y2="653.0" stroke="#000" stroke-width="5.0" />
<line x1="1004.9" y1="660.7" x2="1004.9" y2="646.8" stroke="#000" stroke-width="5.0" />
<line x1="1058.1" y1="660.7" x2="1058.1" y2="653.0" stroke="#000" stroke-width="5.0" />
<line x1="150.8" y1="552.5" x2="165.4" y2="552.5" stroke="#000" stroke-width="5.0" />
<line x1="150.8" y1="445.1" x2="158.7" y2="445.1" stroke="#000" stroke-width="5.0" />
<line x1="150.8" y1="337.6" x2="165.4" y2="337.6" stroke="#000" stroke-width="5.0" />
<line x1="150.8" y1="230.1" x2="158.7" y2="230.1" stroke="#000" stroke-width="5.0" />
<line x1="150.8" y1="122.6" x2="165.4" y2="122.6" stroke="#000" stroke-width="5.0" />
<line x1="1111.3" y1="580.0" x2="1097.7" y2="580.0" stroke="#000" stroke-width="5.0" />
<line x1="1111.3" y1="499.3" x2="1104.9" y2="499.3" stroke="#000" stroke-width="5.0" />
<line x1="1111.3" y1="418.6" x2="1097.7" y2="418.6" stroke="#000" stroke-width="5.0" />
<line x1="1111.3" y1="337.9" x2="1104.9" y2="337.9" stroke="#000" stroke-width="5.0" />
<line x1="1111.3" y1="257.2" x2="1097.7" y2="257.2" stroke="#000" stroke-width="5.0" />
<line x1="1111.3" y1="176.5" x2="1104.9" y2="176.5" stroke="#000" stroke-width="5.0" />
<line x1="1111.3" y1="95.8" x2="1097.7" y2="95.8" stroke="#000" stroke-width="5.0" />
<g font-family="Liberation Serif, serif" font-weight="bold" font-size="44" fill="#000" style="font-kerning:none">
<text x="150.9" y="708.9" text-anchor="middle" font-size="46.5" textLength="65.3" lengthAdjust="spacingAndGlyphs">200</text>
<text x="257.7" y="708.9" text-anchor="middle" font-size="46.5" textLength="65.3" lengthAdjust="spacingAndGlyphs">250</text>
<text x="364.5" y="708.9" text-anchor="middle" font-size="46.5" textLength="65.3" lengthAdjust="spacingAndGlyphs">300</text>
<text x="471.4" y="708.9" text-anchor="middle" font-size="46.5" textLength="65.3" lengthAdjust="spacingAndGlyphs">350</text>
<text x="578.2" y="708.9" text-anchor="middle" font-size="46.5" textLength="65.3" lengthAdjust="spacingAndGlyphs">400</text>
<text x="685.1" y="708.9" text-anchor="middle" font-size="46.5" textLength="65.3" lengthAdjust="spacingAndGlyphs">450</text>
<text x="791.9" y="708.9" text-anchor="middle" font-size="46.5" textLength="65.3" lengthAdjust="spacingAndGlyphs">500</text>
<text x="898.8" y="708.9" text-anchor="middle" font-size="46.5" textLength="65.3" lengthAdjust="spacingAndGlyphs">550</text>
<text x="1005.6" y="708.9" text-anchor="middle" font-size="46.5" textLength="65.3" lengthAdjust="spacingAndGlyphs">600</text>
<text x="1112.5" y="708.9" text-anchor="middle" font-size="46.5" textLength="65.3" lengthAdjust="spacingAndGlyphs">650</text>
<text x="136.2" y="565.5" text-anchor="end" font-size="46.5" textLength="65.3" lengthAdjust="spacingAndGlyphs">400</text>
<text x="136.2" y="350.9" text-anchor="end" font-size="46.5" textLength="65.3" lengthAdjust="spacingAndGlyphs">600</text>
<text x="136.2" y="134.7" text-anchor="end" font-size="46.5" textLength="65.3" lengthAdjust="spacingAndGlyphs">800</text>
<text x="1126.5" y="592.6">0</text>
<text x="1126.5" y="431.2">1</text>
<text x="1126.5" y="269.8">2</text>
<text x="1126.5" y="108.4">3</text>
<text x="632" y="778" text-anchor="middle" textLength="124" lengthAdjust="spacingAndGlyphs">Time/s</text>
<text transform="translate(53.4 335.2) rotate(-90)" text-anchor="middle" font-size="46" textLength="323.5" lengthAdjust="spacingAndGlyphs">Temperature/°C</text>
<text transform="translate(1208.8 336.5) rotate(-90)" text-anchor="middle" textLength="241.5" lengthAdjust="spacingAndGlyphs">Intensity/a.u.</text>
<text x="308" y="439.2" text-anchor="middle">I</text>
<text x="483.5" y="313.2" text-anchor="middle">II</text>
<text x="640" y="190.6" text-anchor="middle">III</text>
<text x="860.5" y="53.8" textLength="242" lengthAdjust="spacingAndGlyphs">Temperature</text>
<text x="860.5" y="107.1" textLength="240.5" lengthAdjust="spacingAndGlyphs">Li<tspan dy="3.5">_</tspan><tspan dy="-3.5">670.78nm</tspan></text>
<text x="859" y="161.8" textLength="250" lengthAdjust="spacingAndGlyphs">Ar<tspan dy="3.5">_</tspan><tspan dy="-3.5">763.51nm</tspan></text>
</g>
</svg>
</body></html>
